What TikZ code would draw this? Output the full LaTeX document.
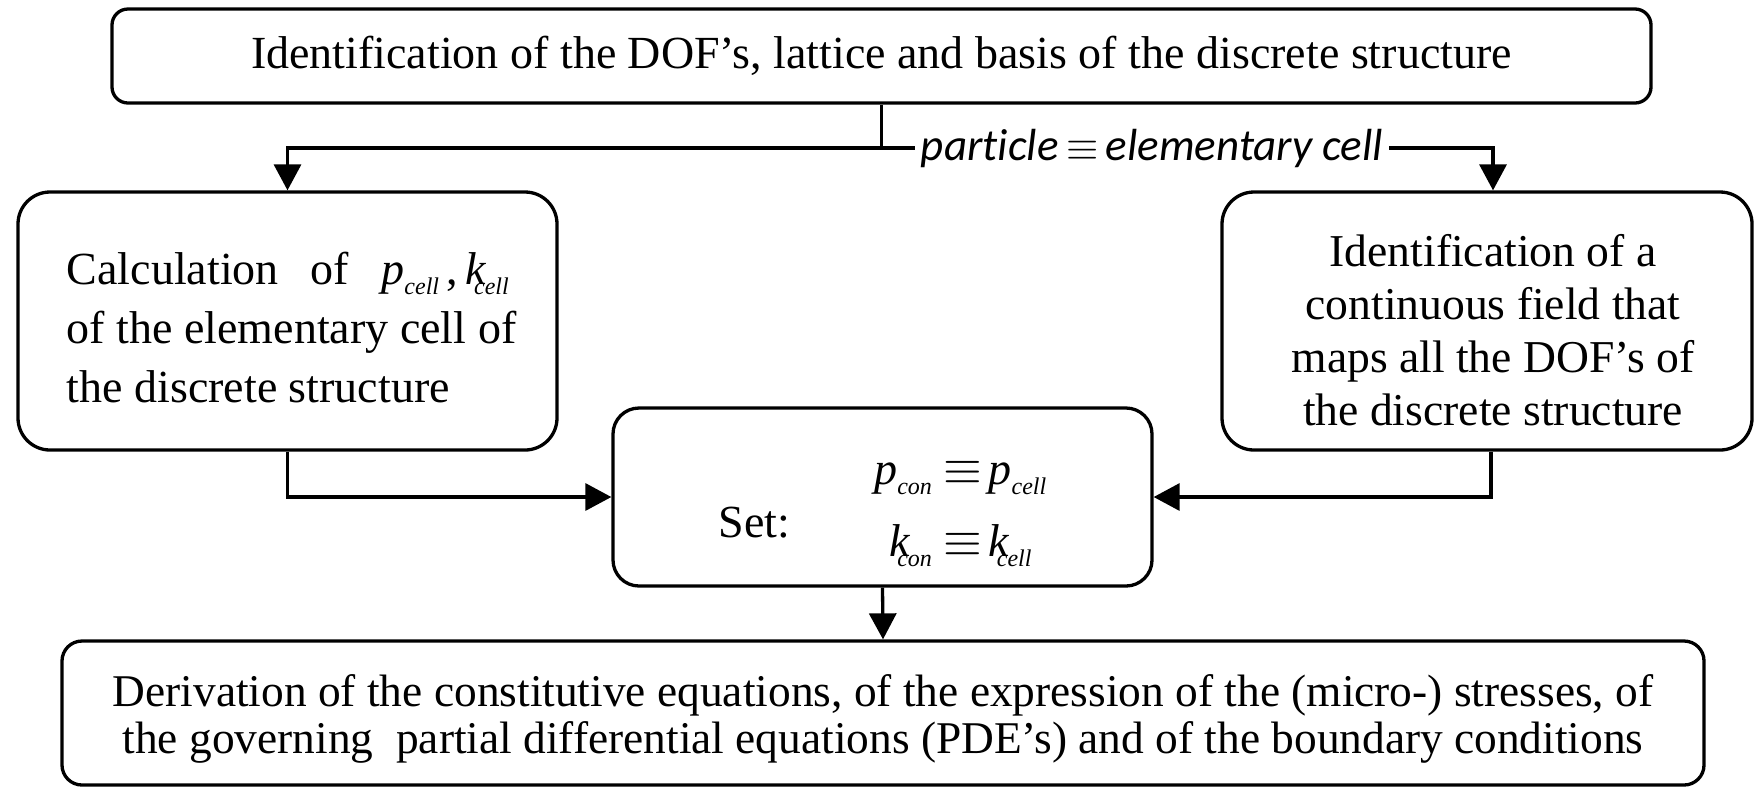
\documentclass[tikz,border=0pt]{standalone}
\usepackage{fontspec}
\setmainfont{Liberation Serif}
\newfontfamily\lblfont[Ligatures=NoCommon]{Carlito}
\usetikzlibrary{arrows.meta,calc}
% italic symbol with a small italic subscript
\newcommand{\qsub}[2]{\textit{#1}\raisebox{-0.5ex}{\fontsize{12}{12}\selectfont\textit{#2}}}
% same, with the subscript tucked under the letter
\newcommand{\ksub}[2]{\textit{#1}\kern-0.28em\raisebox{-0.5ex}{\fontsize{12}{12}\selectfont\textit{#2}}}
% equivalence sign with its surrounding space
\newcommand{\eqv}{\hspace{6pt}$\equiv$\hspace{3pt}}
\begin{document}
\begin{tikzpicture}[x=0.5pt,y=-0.5pt,
  box/.style={draw, line width=1.65pt, rounded corners=#1, inner sep=0pt,
    font=\fontsize{23}{28}\selectfont},
  box/.default=10pt,
  conn/.style={line width=1.65pt, -{Triangle[length=13pt,width=13.5pt]}},
  lbl/.style={fill=white, inner xsep=3pt, inner ysep=1pt,
    font=\lblfont\itshape\fontsize{22.5}{26}\selectfont}]
\useasboundingbox (0,0) rectangle (1754,789);

\node[box=8pt, minimum width=769.5pt, minimum height=47pt] (top) at (881.5,56)
  {Identification of the DOF’s, lattice and basis of the discrete structure};

\node[box=16pt, minimum width=269.5pt, minimum height=129pt,
      font=\fontsize{23}{28.8}\selectfont] (calc) at (287.5,321)
  {\raisebox{-5.5pt}[\height][\depth]{\hspace{4pt}\begin{tabular}{@{}l@{}}
   Calculation\hspace{0.7em}of\hspace{0.7em}\qsub{p}{cell}\,,\,\ksub{k}{cell}\\[0.8pt]
   of the elementary cell of\\[0.8pt] the discrete structure\end{tabular}}};

\node[box=16pt, minimum width=265pt, minimum height=129pt,
      font=\fontsize{22.8}{26.5}\selectfont] (field) at (1487,321)
  {\raisebox{-7pt}[\height][\depth]{\hspace{6pt}\begin{tabular}{@{}c@{}}
   Identification of a\\ continuous field that\\ maps all the DOF’s of\\ the discrete structure
   \end{tabular}}};

\node[box=13pt, minimum width=269.5pt, minimum height=89pt] (set) at (882.5,497)
  {\raisebox{-6pt}[\height][\depth]{\begin{tabular}{@{}l@{\hspace{42pt}}c@{}}
    \raisebox{-8pt}{Set:} & \begin{tabular}{@{}c@{}}
      \qsub{p}{con}\eqv\qsub{p}{cell}\\[8pt]
      \ksub{k}{con}\eqv\ksub{k}{cell}
    \end{tabular}
  \end{tabular}}};

\node[box=10pt, minimum width=821pt, minimum height=72pt,
      font=\fontsize{22.7}{23.5}\selectfont] (deriv) at (883,713)
  {\raisebox{-4pt}[\height][\depth]{\begin{tabular}{@{}c@{}}
   Derivation of the constitutive equations, of the expression of the (micro-) stresses, of\\
   the governing~ partial differential equations (PDE’s) and of the boundary conditions
   \end{tabular}}};

% distribution bus below the first step
\coordinate (bus) at (0,148);
\draw[conn] (top.south) -- (top.south |- bus) -| (calc.north);
\draw[conn] (top.south |- bus) -| ([xshift=3pt]field.north);
\node[lbl] (rel) at (1152,148) {particle\,$\equiv$\,elementary cell};

% both results feed the identification step
\draw[conn] (calc.south) |- (set.west);
\draw[conn] ([xshift=2pt]field.south) |- (set.east);
\draw[conn] (set.south) -- (deriv.north);
\end{tikzpicture}
\end{document}
